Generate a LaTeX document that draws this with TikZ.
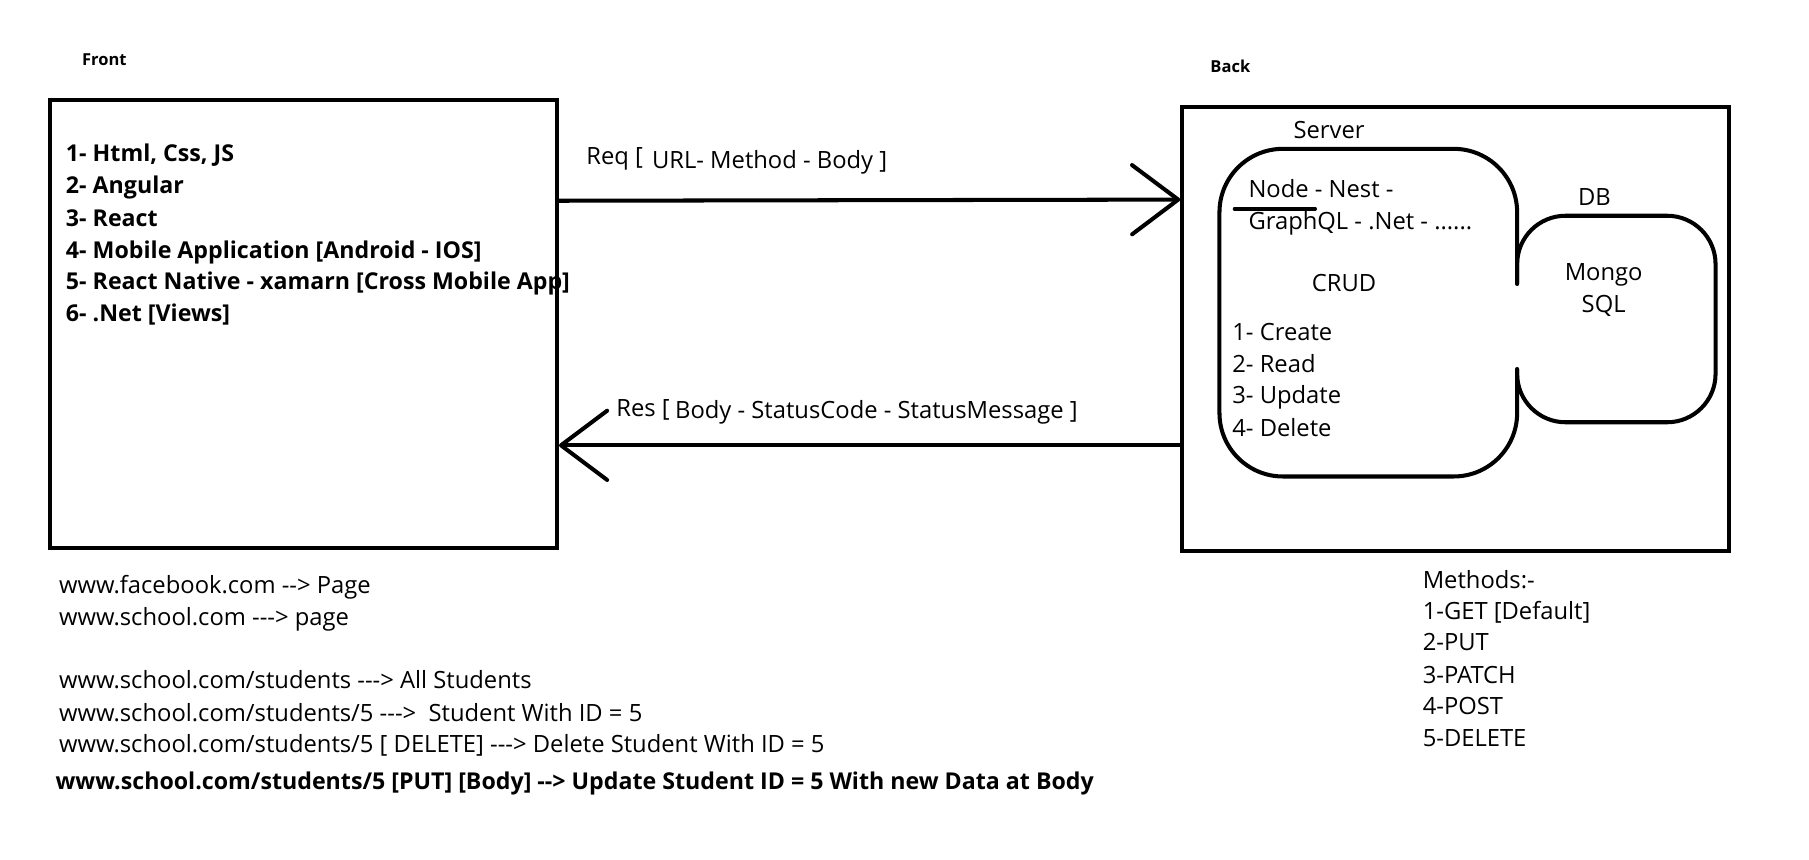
\documentclass[tikz,border=0pt]{standalone}
\usepackage{fontspec}
\setmainfont{Open Sans}
\usetikzlibrary{arrows.meta}
\begin{document}
\begin{tikzpicture}[x=1pt,y=-1pt,
  box/.style={draw, line width=3.5pt, inner sep=0pt},
  conn/.style={line width=3.5pt, -{Straight Barb[length=40pt,width=60pt,line width=3.5pt,round]}},
  tx/.style={anchor=base west, inner sep=0pt, font=\fontsize{20.6}{24}\selectfont},
  bx/.style={anchor=base west, inner sep=0pt, font=\fontsize{20.1}{24}\selectfont\bfseries},
  sm/.style={anchor=base west, inner sep=0pt, font=\fontsize{14.3}{17}\selectfont\bfseries},
  ct/.style={anchor=base, inner sep=0pt, font=\fontsize{20.6}{24}\selectfont},
  rnd/.style={line width=3.5pt, line join=round, line cap=round}]
\useasboundingbox (0,0) rectangle (1568,745);

% Front
\node[sm] (frontlbl) at (71,57) {Front};
\node[box, minimum width=439pt, minimum height=388pt, anchor=north west] (front) at (42,85) {};
\node[bx] (f1) at (57,140) {1- Html, Css, JS};
\node[bx] (f2) at (57,168) {2- Angular};
\node[bx] (f3) at (57,196) {3- React};
\node[bx] (f4) at (57,224) {4- Mobile Application [Android - IOS]};
\node[bx] (f5) at (57,251) {5- React Native - xamarn [Cross Mobile App]};
\node[bx] (f6) at (57,279) {6- .Net [Views]};

% Back
\node[sm] (backlbl) at (1049,63) {Back};
\node[box, minimum width=474pt, minimum height=385pt, anchor=north west] (back) at (1023,91) {};

% Server box with gap on right side
\node[ct] (serverlbl) at (1152,120) {Server};
\coordinate (sgapTop) at (1315,246);
\coordinate (sgapBot) at (1315,320);
\draw[rnd, rounded corners=55pt] (sgapTop) -- (1315,129) -- (1057,129) -- (1057,413) -- (1315,413) -- (sgapBot);
% DB box
\node[ct] (dblbl) at (1382,178) {DB};
\draw[rnd, rounded corners=42pt] (sgapTop) -- (1315,187) -- (1487,187) -- (1487,366) -- (1315,366) -- (sgapBot);

\node[tx] (n1) at (1082,171) {Node - Nest -};
\coordinate (ulA) at (1070,181);
\coordinate (ulB) at (1140,181);
\draw[rnd, line width=3pt] (ulA) -- (ulB);
\node[tx] (n2) at (1082,199) {GraphQL - .Net - ......};
\node[ct] (crud) at (1165,253) {CRUD};
\node[tx] (c1) at (1068,295) {1- Create};
\node[tx] (c2) at (1068,323) {2- Read};
\node[tx] (c3) at (1068,350) {3- Update};
\node[tx] (c4) at (1068,378) {4- Delete};
\node[ct] (mongo) at (1390,243) {Mongo};
\node[ct] (sql) at (1390,271) {SQL};

% Arrows
\coordinate (reqS) at (front.east |- 0,174);
\coordinate (reqE) at (back.west |- 0,173);
\draw[conn] (reqS) -- (reqE);
\coordinate (resS) at (back.west |- 0,386);
\coordinate (resE) at (front.east |- 0,386);
\draw[conn] (resS) -- (resE);
\node[tx] (req1) at (508,143) {Req [};
\node[tx] (req2) at (565,146) {URL- Method - Body ]};
\node[tx] (res1) at (534,361) {Res [};
\node[tx] (res2) at (585,363) {Body - StatusCode - StatusMessage ]};

% Bottom notes
\node[tx] (u1) at (51,514) {www.facebook.com -{}-> Page};
\node[tx] (u2) at (51,542) {www.school.com -{}-{}-> page};
\node[tx] (u3) at (51,597) {www.school.com/students -{}-{}-> All Students};
\node[tx] (u4) at (51,625) {www.school.com/students/5 -{}-{}->\ \ Student With ID = 5};
\node[tx] (u5) at (51,652) {www.school.com/students/5 [ DELETE] -{}-{}-> Delete Student With ID = 5};
\node[bx] (u6) at (48,684) {www.school.com/students/5 [PUT] [Body] -{}-> Update Student ID = 5 With new Data at Body};

% Methods
\node[tx] (m0) at (1233,510) {Methods:-};
\node[tx] (m1) at (1233,537) {1-GET [Default]};
\node[tx] (m2) at (1233,564) {2-PUT};
\node[tx] (m3) at (1233,592) {3-PATCH};
\node[tx] (m4) at (1233,619) {4-POST};
\node[tx] (m5) at (1233,647) {5-DELETE};
\end{tikzpicture}
\end{document}
